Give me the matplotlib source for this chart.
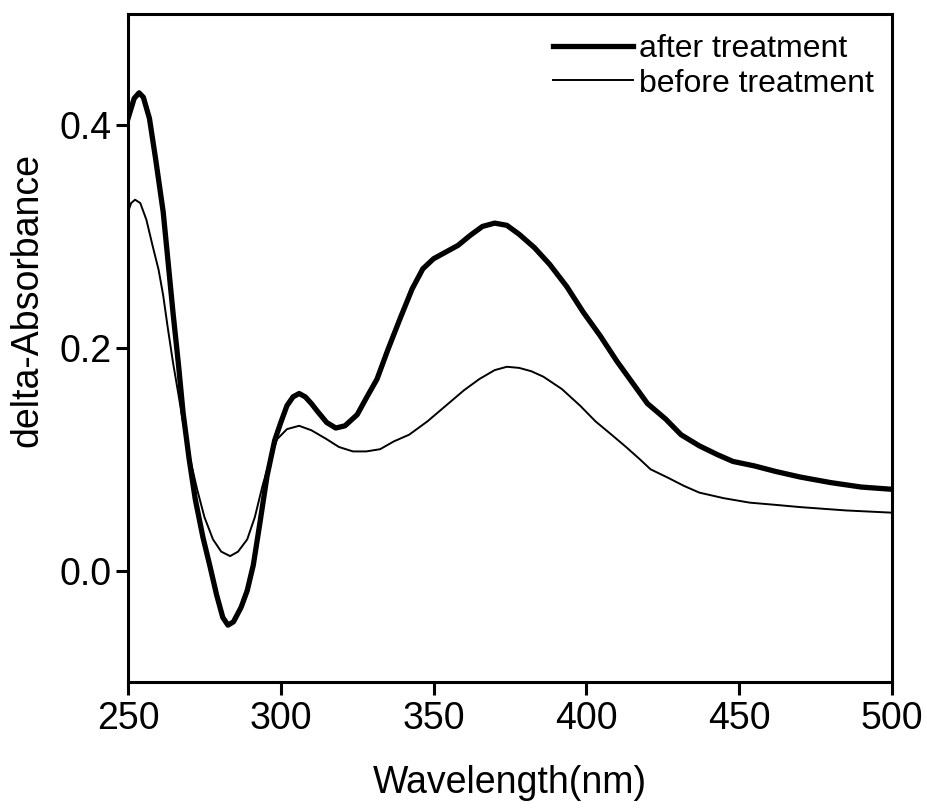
import matplotlib
matplotlib.use("Agg")
import matplotlib.pyplot as plt

plt.rcParams['font.family'] = ['Liberation Sans', 'DejaVu Sans']

# after treatment (thick line)
wl_after = [250, 252, 253.6, 255, 257, 259, 261.5, 263, 264.7, 266.5, 268, 270, 272,
            274.5, 276.8, 279, 281, 282.7, 284.5, 287, 289, 291, 293, 295.5, 298, 300,
            302, 304, 306, 308, 310, 312, 315, 318, 321, 325, 328, 331.5, 335, 339, 343,
            346.5, 350, 354, 358, 362, 366, 370, 374, 378, 383, 388, 393.6, 399, 404.5,
            410, 415, 420, 426, 431, 437, 443, 448, 455, 462, 470, 480, 490, 500]
abs_after = [0.406, 0.424, 0.429, 0.425, 0.406, 0.370, 0.322, 0.280, 0.232, 0.185, 0.142,
             0.100, 0.064, 0.030, 0.004, -0.022, -0.042, -0.049, -0.046, -0.033, -0.018,
             0.005, 0.040, 0.085, 0.117, 0.133, 0.148, 0.156, 0.159, 0.156, 0.150, 0.143,
             0.133, 0.128, 0.130, 0.140, 0.155, 0.172, 0.198, 0.226, 0.253, 0.271, 0.280,
             0.286, 0.292, 0.301, 0.309, 0.312, 0.310, 0.302, 0.290, 0.275, 0.255, 0.232,
             0.211, 0.188, 0.169, 0.150, 0.136, 0.122, 0.112, 0.104, 0.098, 0.094, 0.089,
             0.084, 0.079, 0.075, 0.073]

# before treatment (thin line)
wl_before = [250, 251, 252.3, 254, 256, 258, 260, 261.5, 263, 264.7, 266.5, 268, 270,
             272.6, 275, 277.8, 280.5, 283.4, 286, 289, 291.5, 294, 296.5, 298.8, 302,
             306, 310, 315, 319, 323.6, 328, 332.5, 337, 342, 348, 354, 360, 365, 370,
             374, 378, 382, 386, 392, 398, 403, 408.7, 413, 417.5, 421, 427, 432, 437,
             445, 453.5, 462, 470, 485, 500]
abs_before = [0.322, 0.330, 0.333, 0.330, 0.315, 0.292, 0.270, 0.247, 0.218, 0.187, 0.158,
              0.133, 0.104, 0.073, 0.048, 0.028, 0.017, 0.013, 0.017, 0.028, 0.048, 0.076,
              0.100, 0.118, 0.127, 0.130, 0.126, 0.118, 0.111, 0.107, 0.107, 0.109, 0.116,
              0.122, 0.134, 0.148, 0.162, 0.172, 0.180, 0.183, 0.182, 0.179, 0.174, 0.163,
              0.148, 0.134, 0.121, 0.111, 0.100, 0.091, 0.083, 0.076, 0.070, 0.065, 0.061,
              0.059, 0.057, 0.054, 0.052]

x_ticks = [250, 300, 350, 400, 450, 500]
y_ticks = [0.0, 0.2, 0.4]

fig = plt.figure(figsize=(9.28, 8.08), dpi=100)
ax = fig.add_axes([0.138, 0.156, 0.823, 0.827])

ax.plot(wl_after, abs_after, color='black', lw=3.8, label='after treatment')
ax.plot(wl_before, abs_before, color='black', lw=1.4, label='before treatment')

ax.set_xlim(250, 500)
ax.set_ylim(-0.1, 0.5)
ax.set_xticks(x_ticks)
ax.set_yticks(y_ticks)
ax.set_yticklabels(['%.1f' % v for v in y_ticks])

for s in ax.spines.values():
    s.set_linewidth(2.2)
ax.tick_params(direction='out', length=9, width=2.2, labelsize=27,
               top=False, right=False)
ax.tick_params(axis='x', pad=5)
ax.tick_params(axis='y', pad=3)

ax.set_xlabel('Wavelength(nm)', fontsize=27, labelpad=20)
ax.set_ylabel('delta-Absorbance', fontsize=27)
ax.yaxis.set_label_coords(-0.108, 0.572)

ax.legend(loc='upper left', bbox_to_anchor=(0.556, 0.970), frameon=False,
          fontsize=23, borderpad=0, borderaxespad=0, handlelength=2.5,
          handletextpad=0.2, labelspacing=0.15)

fig.savefig('out.png', dpi=100)
